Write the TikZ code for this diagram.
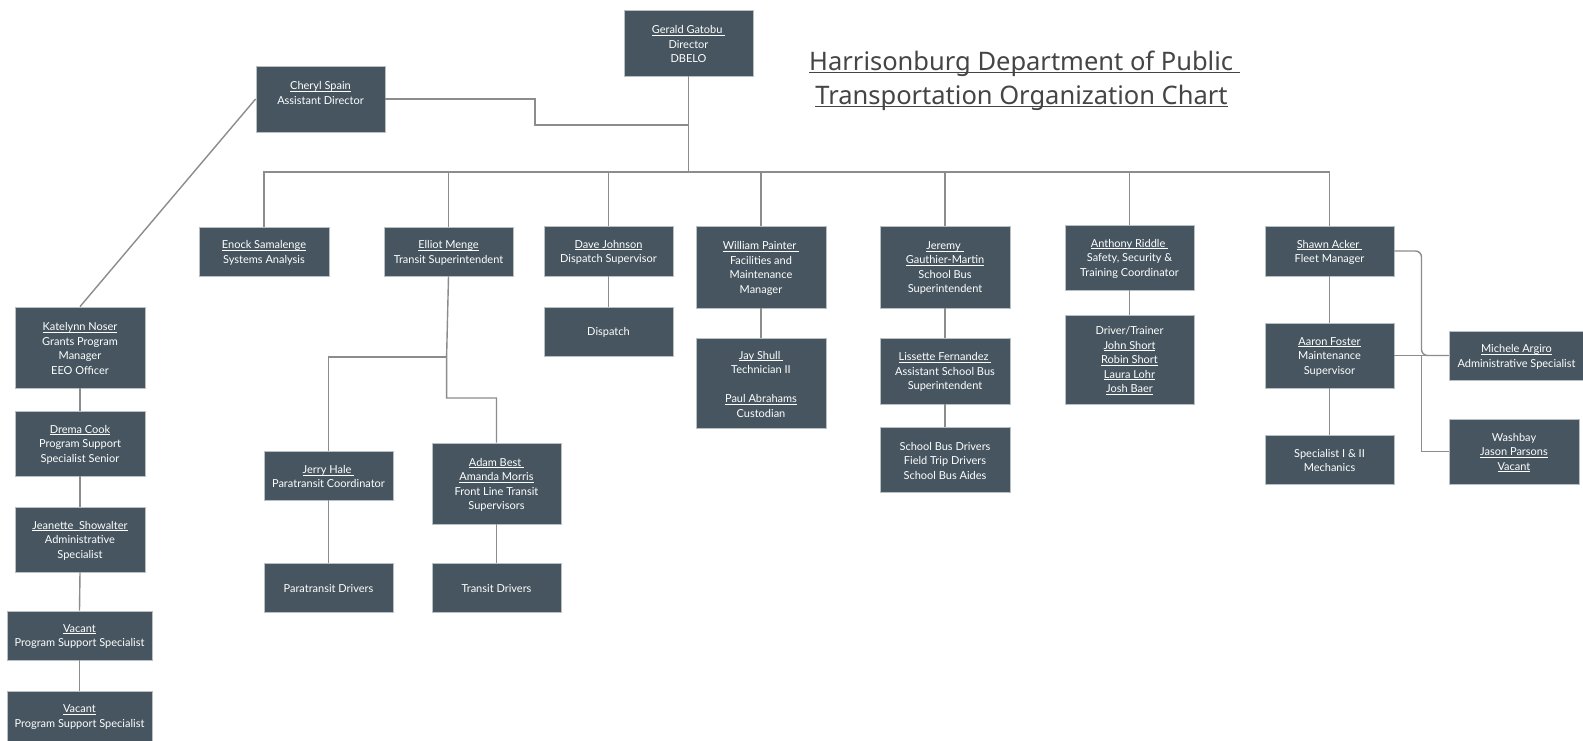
\documentclass[tikz,border=0pt]{standalone}
\usepackage{fontspec}
\setmainfont{Lato}
\newfontfamily\titlefont{Noto Sans}
\definecolor{boxc}{HTML}{46555F}
\definecolor{boxline}{HTML}{B9C0C4}
\definecolor{linec}{HTML}{8C8C8C}
\definecolor{titlec}{HTML}{454545}
\newcommand\ulx[3]{\setbox0\hbox{#3}\rlap{\rule[-#1]{\wd0}{#2}}\box0}
\newcommand\nm[1]{\ulx{1.8pt}{0.7pt}{#1}}
\newcommand\tul[1]{\ulx{2.6pt}{1.1pt}{#1}}
\newcommand\obox[6]{\node[ob, minimum width={#4-#2}, minimum height={#5-#3}] (#1) at ({(#2+#4)/2},{(#3+#5)/2}) {};
  \node[obt] (#1-t) at ([yshift=-1.2pt]#1.center) {#6};}
\begin{document}
\begin{tikzpicture}[x=1pt,y=-1pt,
  ob/.style={rectangle, fill=boxc, draw=boxline, line width=0.8pt, inner sep=0pt},
  obt/.style={inner sep=0pt, text=white, align=center, font=\fontsize{11}{14.5}\selectfont},
  conn/.style={draw=linec, line width=1.4pt},
  ttl/.style={anchor=base, inner sep=0pt, text=titlec, font=\titlefont\fontsize{25.5}{34}\selectfont}]
\useasboundingbox (0,0) rectangle (1583,740);
\fill[white] (0,0) rectangle (1583,740);

% title
\node[ttl] (title1) at (1024.5,70) {\tul{Harrisonburg Department of Public\ }};
\node[ttl] (title2) at (1021.5,104) {\tul{Transportation Organization Chart}};

% boxes
\obox{gerald}{624}{10}{753}{76}{\nm{Gerald Gatobu\ }\\Director\\DBELO}
\obox{cheryl}{256}{66}{385}{132}{\nm{Cheryl Spain}\\Assistant Director\\~}
\obox{enock}{199}{227}{329}{276}{\nm{Enock Samalenge}\\Systems Analysis}
\obox{elliot}{384}{227}{513}{276}{\nm{Elliot Menge}\\Transit Superintendent}
\obox{dave}{544}{226}{673}{276}{\nm{Dave Johnson}\\Dispatch Supervisor}
\obox{william}{696}{226}{826}{308}{\nm{William Painter\ }\\Facilities and\\Maintenance\\Manager}
\obox{jeremy}{880}{226}{1010}{308}{\nm{Jeremy\ }\\\nm{Gauthier-Martin}\\School Bus\\Superintendent}
\obox{anthony}{1065}{225}{1194}{290}{\nm{Anthony Riddle\ }\\Safety, Security \&\\Training Coordinator}
\obox{shawn}{1265}{226}{1394}{276}{\nm{Shawn Acker\ }\\Fleet Manager}
\obox{katelynn}{15}{307}{145}{388}{\nm{Katelynn Noser}\\Grants Program\\Manager\\EEO Officer}
\obox{drema}{15}{411}{145}{476}{\nm{Drema Cook}\\Program Support\\Specialist Senior}
\obox{jeanette}{15}{507}{145}{572}{\nm{Jeanette\ \ Showalter}\\Administrative\\Specialist}
\obox{vacone}{7}{611}{152}{660}{\nm{Vacant}\\Program Support Specialist}
\obox{vactwo}{7}{691}{152}{741}{\nm{Vacant}\\Program Support Specialist}
\obox{jerry}{264}{451}{393}{500}{\nm{Jerry Hale\ }\\Paratransit Coordinator}
\obox{adam}{432}{443}{561}{524}{\nm{Adam Best\ }\\\nm{Amanda Morris}\\Front Line Transit\\Supervisors}
\obox{paradrv}{264}{563}{393}{612}{Paratransit Drivers}
\obox{transdrv}{432}{563}{561}{612}{Transit Drivers}
\obox{dispatch}{544}{307}{673}{356}{Dispatch}
\obox{jay}{696}{338}{826}{428}{\nm{Jay Shull\ }\\Technician II\\~\\\nm{Paul Abrahams}\\Custodian}
\obox{lissette}{880}{338}{1010}{404}{\nm{Lissette Fernandez\ }\\Assistant School Bus\\Superintendent}
\obox{sbd}{880}{427}{1010}{492}{School Bus Drivers\\Field Trip Drivers\\School Bus Aides}
\obox{drivertr}{1065}{315}{1194}{404}{Driver/Trainer\\\nm{John Short}\\\nm{Robin Short}\\\nm{Laura Lohr}\\\nm{Josh Baer}}
\obox{aaron}{1265}{323}{1394}{388}{\nm{Aaron Foster}\\Maintenance\\Supervisor}
\obox{spec}{1265}{435}{1394}{484}{Specialist I \& II\\Mechanics}
\obox{michele}{1449}{331}{1584}{380}{\nm{Michele Argiro}\\Administrative Specialist}
\obox{washbay}{1449}{419}{1579}{484}{Washbay\\\nm{Jason Parsons}\\\nm{Vacant}}

% junction coordinates
\coordinate (bus) at (686,172);
\coordinate (cj) at (535,125);
\coordinate (ej) at (446.6,357);
\coordinate (ejb) at (446.6,398);
\coordinate (rx) at (1421.5,0);

% connectors
\draw[conn] (gerald.south) -- (gerald.south |- bus);
\draw[conn] (enock.north) -- (enock.north |- bus) -- (shawn.north |- bus) -- (shawn.north);
\foreach \n in {elliot,dave,william,jeremy,anthony}
  \draw[conn] (\n.north) -- (\n.north |- bus);
\draw[conn] (cheryl.east) -| (cj) -- (gerald.south |- cj);
\draw[conn] (cheryl.west) -- (katelynn.north);
\draw[conn] (katelynn.south) -- (drema.north);
\draw[conn] (drema.south) -- (jeanette.north);
\draw[conn] (jeanette.south) -- (vacone.north);
\draw[conn] (vacone.south) -- (vactwo.north);
\draw[conn] (elliot.south) -- (ej) -- (ejb) -| (adam.north);
\draw[conn] (ej) -| (jerry.north);
\draw[conn] (jerry.south) -- (paradrv.north);
\draw[conn] (adam.south) -- (transdrv.north);
\draw[conn] (dave.south) -- (dispatch.north);
\draw[conn] (william.south) -- (jay.north);
\draw[conn] (jeremy.south) -- (lissette.north);
\draw[conn] (lissette.south) -- (sbd.north);
\draw[conn] (anthony.south) -- (drivertr.north);
\draw[conn] (shawn.south) -- (aaron.north);
\draw[conn] (aaron.south) -- (spec.north);
\draw[conn, rounded corners=6pt] (shawn.east) -| (rx |- michele.west) -- (michele.west);
\draw[conn] (aaron.east) -- (michele.west);
\draw[conn] (rx |- aaron.east) |- (washbay.west);
\end{tikzpicture}
\end{document}
